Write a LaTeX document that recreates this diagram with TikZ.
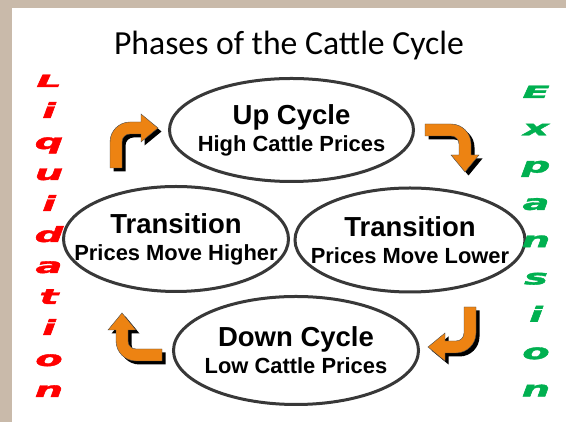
\documentclass[tikz,border=0pt]{standalone}
\usepackage{fontspec}
\setmainfont{Liberation Sans}
\newfontfamily\titlefont{Carlito}
\newfontfamily\wordartfont{DejaVu Sans}[FakeBold=1.6]
\usepackage{graphicx}
\usepackage{tikz}
\usetikzlibrary{arrows,arrows.meta,shapes.geometric}
\usepackage{xcolor}
\definecolor{slidetan}{RGB}{201,186,170}
\definecolor{ringgray}{RGB}{56,56,56}
\definecolor{arroworange}{RGB}{237,131,18}
\definecolor{liqred}{RGB}{255,0,0}
\definecolor{expgreen}{RGB}{0,176,80}
\newcommand{\bentarrow}{(-6,0) -- (-6,26) arc[start angle=180,end angle=90,radius=20pt] -- (25,46) -- (25,54) -- (42,40) -- (25,26) -- (25,34) -- (14,34) arc[start angle=90,end angle=180,radius=8pt] -- (6,0) -- cycle}
\newcommand{\phasehead}[1]{{\fontsize{27.5}{28}\selectfont #1}}

\begin{document}
\begin{tikzpicture}[x=1pt,y=1pt]
\useasboundingbox (0,0) rectangle (566,422);
\fill[slidetan] (0,0) rectangle (566,422);
\fill[white] (12,0) rectangle (566,414);

\node[anchor=base,font=\titlefont\fontsize{33.7}{40}\selectfont] (title) at (289,367) {Phases of the Cattle Cycle};

\begin{scope}[every node/.style={ellipse,draw=ringgray,line width=3pt,inner sep=0pt}]
    \node[minimum width=244pt,minimum height=103pt] (U) at (291.5,292) {};
    \node[minimum width=225pt,minimum height=105pt] (H) at (176,183) {};
    \node[minimum width=230pt,minimum height=104pt] (L) at (410,182) {};
    \node[minimum width=245pt,minimum height=108pt] (D) at (296,71.5) {};
\end{scope}

\begin{scope}[every node/.style={align=center,inner sep=0pt,font=\bfseries\fontsize{21.9}{27}\selectfont}]
    \node (Ut) at (U) {\phasehead{Up Cycle}\\High Cattle Prices};
    \node (Ht) at (H) {\phasehead{Transition}\\Prices Move Higher};
    \node (Lt) at (L) {\phasehead{Transition}\\Prices Move Lower};
    \node (Dt) at (D) {\phasehead{Down Cycle}\\Low Cattle Prices};
\end{scope}

% bent arrows round the cycle, shadow first
\foreach \px/\py/\ang in {116/254/0, 425/292/-90, 470/115/180, 162/67/90} {
    \fill[black,shift={(\px+3.5,\py-3.5)},rotate=\ang] \bentarrow;
    \filldraw[fill=arroworange,draw=gray!60!black,thin,shift={(\px,\py)},rotate=\ang] \bentarrow;
}

\begin{scope}[every node/.style={anchor=base,font=\wordartfont\bfseries\itshape\fontsize{21}{21}\selectfont}]
    \foreach \ch/\sy [count=\k from 0] in {L/0.8,i/1,q/1,u/1,i/1,d/1,a/1,t/1,i/1,o/1,n/1}
        \node[text=liqred] (liq\k) at (49,335-31*\k) {\scalebox{1.9}[\sy]{\ch}};
    \foreach \ch/\sy [count=\k from 0] in {E/0.8,x/1,p/1,a/1,n/1,s/1,i/1,o/1,n/1}
        \node[text=expgreen] (exp\k) at (536,324-37.3*\k) {\scalebox{1.9}[\sy]{\ch}};
\end{scope}
\end{tikzpicture}
\end{document}
